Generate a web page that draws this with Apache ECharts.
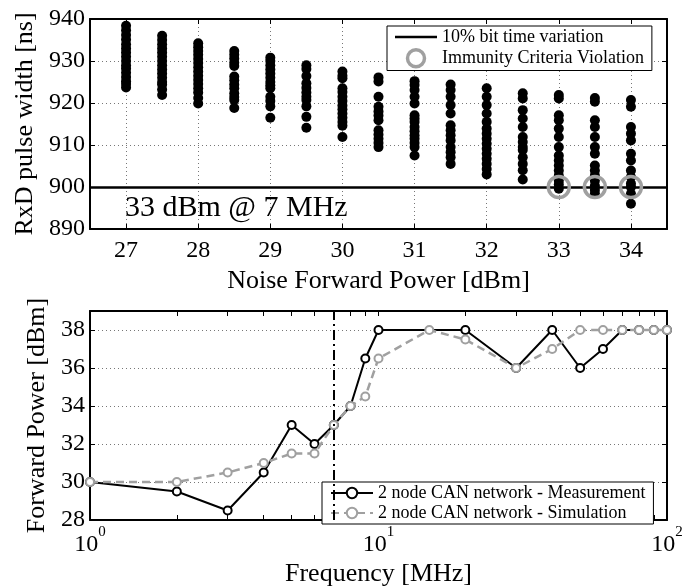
<!DOCTYPE html>
<html>
<head>
<meta charset="utf-8">
<script src="https://cdn.jsdelivr.net/npm/echarts@6/dist/echarts.min.js"></script>
<style>
  html, body { margin: 0; padding: 0; background: #fff; }
  #chart { width: 697px; height: 588px; }
</style>
</head>
<body>
<div id="chart"></div>
<script>
// top panel: RxD pulse width per noise power step
var noisePower = [27, 27.5, 28, 28.5, 29, 29.5, 30, 30.5, 31, 31.5, 32, 32.5, 33, 33.5, 34];
var pulseWidth = [
  [938.4, 937.3, 936.2, 935.1, 934, 933, 932, 931, 930, 929, 928.2, 927.2, 926.2, 925.2, 924.5, 923.7],
  [936, 935, 934, 933, 932, 931, 930, 929, 928, 927, 926, 925, 924.4, 923.2, 921.9],
  [934.2, 933.3, 932.4, 931.5, 930.5, 929.5, 928.5, 927.5, 926.5, 925.5, 924.5, 923.5, 922.5, 921.2, 919.9],
  [932.4, 931.5, 930.6, 929.6, 928.8, 926.3, 925.4, 924.4, 923.5, 922.3, 921.4, 920.7, 918.8],
  [930.8, 930, 929, 928, 927, 926, 925, 924.2, 923.5, 921.5, 920.5, 919.2, 916.5],
  [929, 928.1, 926.4, 924.7, 923.6, 922.5, 921.5, 920.7, 919.2, 916.7, 914.1],
  [927.5, 926.5, 925.9, 923.5, 922.6, 921.5, 920.5, 919.4, 918.5, 917.5, 916.5, 915.5, 914.6, 911.9],
  [926.1, 925.1, 921.5, 919.1, 918, 917, 915.9, 913.5, 912.5, 911.5, 910.5, 909.5],
  [925.2, 924.3, 923.1, 921.5, 919.9, 917.1, 916.3, 915.5, 914.3, 913.3, 912.3, 911.5, 910.5, 909.5, 907.5],
  [924.4, 923.1, 921.5, 919.5, 917.5, 914.7, 913.5, 912.3, 911.1, 909.5, 908.3, 907.1, 905.5],
  [923.5, 921.5, 919.5, 917.5, 915.5, 913.9, 912.7, 911.5, 910.3, 909.1, 907.9, 906.7, 905.5, 904.3, 903],
  [922.3, 921.1, 918.3, 916.3, 914.3, 911.9, 910.7, 909.5, 908.8, 907.1, 905.5, 904, 901.8],
  [921.9, 921.1, 917.1, 915.9, 913.9, 911.9, 909.5, 907.5, 906.3, 905.1, 903.9, 902.7, 901.5, 900.6, 899.6],
  [921.2, 920.3, 915.9, 914.3, 911.9, 909.5, 907.9, 905.1, 903.9, 902.7, 901.5, 900.3, 899.3, 898.4],
  [920.7, 919.1, 914.3, 912.7, 911.1, 907.9, 906.3, 903.9, 902.4, 900.8, 900, 898.4, 896]
];
var threshold = 900;
var violationPower = [33, 33.5, 34];
var violationWidth = [900, 900, 900];
var powerTicks = [27, 28, 29, 30, 31, 32, 33, 34];

// bottom panel: forward power vs frequency
var measFreq = [1, 2, 3, 4, 5, 6, 7, 8, 9, 10, 20, 30, 40, 50, 60, 70, 80, 90, 100];
var measPower = [30, 29.5, 28.5, 30.5, 33, 32, 33, 34, 36.5, 38, 38, 36, 38, 36, 37, 38, 38, 38, 38];
var simFreq = [1, 2, 3, 4, 5, 6, 7, 8, 9, 10, 15, 20, 30, 40, 50, 60, 70, 80, 90, 100];
var simPower = [30, 30, 30.5, 31, 31.5, 31.5, 33, 34, 34.5, 36.5, 38, 37.5, 36, 37, 38, 38, 38, 38, 38, 38];
var freqTicks = [1, 2, 3, 4, 5, 6, 7, 8, 9, 10, 20, 30, 40, 50, 60, 70, 80, 90, 100];
var freqLabels = [1, 10, 100];
var markFreq = 7;

var FONT = 'Liberation Serif';
var GRAY = '#a0a0a0';

var dots = [];
for (var i = 0; i < noisePower.length; i++) {
  for (var j = 0; j < pulseWidth[i].length; j++) {
    dots.push([noisePower[i], pulseWidth[i][j]]);
  }
}
var violations = violationPower.map(function (p, k) { return [p, violationWidth[k]]; });
var meas = measFreq.map(function (f, k) { return [f, measPower[k]]; });
var sim = simFreq.map(function (f, k) { return [f, simPower[k]]; });

var boxLine = { show: true, onZero: false, lineStyle: { color: '#000', width: 2 } };
var inTick = { show: true, inside: true, length: 5, lineStyle: { color: '#000', width: 1 } };
var dotGrid = { show: true, lineStyle: { color: '#777', width: 1, type: [1, 3] } };
var tickFont = { color: '#000', fontFamily: FONT, fontSize: 24 };
var nameFont = { color: '#000', fontFamily: FONT, fontSize: 26 };

var chart = echarts.init(document.getElementById('chart'));
var option = {
  animation: false,
  backgroundColor: '#fff',
  grid: [
    { left: 90, right: 30, top: 19, height: 210 },
    { left: 90, right: 30, top: 311, height: 211 }
  ],
  xAxis: [
    {
      gridIndex: 0, type: 'value', min: 26.5, max: 34.5, position: 'bottom',
      axisLine: boxLine,
      axisTick: Object.assign({ customValues: powerTicks }, inTick),
      axisLabel: Object.assign({ customValues: powerTicks, margin: 10 }, tickFont),
      splitLine: dotGrid,
      name: 'Noise Forward Power [dBm]', nameLocation: 'middle', nameGap: 39, nameTextStyle: nameFont
    },
    {
      gridIndex: 0, type: 'value', min: 26.5, max: 34.5, position: 'top',
      axisLine: boxLine,
      axisTick: Object.assign({ customValues: powerTicks }, inTick),
      axisLabel: { show: false }, splitLine: { show: false }
    },
    {
      gridIndex: 1, type: 'log', logBase: 10, min: 1, max: 100, position: 'bottom',
      axisLine: boxLine,
      axisTick: Object.assign({ customValues: freqTicks }, inTick),
      axisLabel: {
        customValues: freqLabels, margin: 5,
        formatter: function (v) {
          return '{b|10}{s|' + Math.round(Math.log10(v)) + '}';
        },
        rich: {
          b: { fontFamily: FONT, fontSize: 24, color: '#000', padding: [8, 0, 0, 0] },
          s: { fontFamily: FONT, fontSize: 15, color: '#000', verticalAlign: 'top' }
        }
      },
      splitLine: { show: false },
      name: 'Frequency [MHz]', nameLocation: 'middle', nameGap: 41, nameTextStyle: nameFont
    },
    {
      gridIndex: 1, type: 'log', logBase: 10, min: 1, max: 100, position: 'top',
      axisLine: boxLine,
      axisTick: Object.assign({ customValues: freqTicks }, inTick),
      axisLabel: { show: false }, splitLine: { show: false }
    }
  ],
  yAxis: [
    {
      gridIndex: 0, type: 'value', min: 890, max: 940, interval: 10, position: 'left',
      axisLine: boxLine, axisTick: inTick,
      axisLabel: Object.assign({ margin: 5 }, tickFont),
      splitLine: dotGrid,
      name: 'RxD pulse width [ns]', nameLocation: 'middle', nameGap: 48, nameTextStyle: nameFont
    },
    {
      gridIndex: 0, type: 'value', min: 890, max: 940, interval: 10, position: 'right',
      axisLine: boxLine, axisTick: inTick,
      axisLabel: { show: false }, splitLine: { show: false }
    },
    {
      gridIndex: 1, type: 'value', min: 28, max: 39, interval: 2, position: 'left',
      axisLine: boxLine, axisTick: inTick,
      axisLabel: Object.assign({ margin: 5, showMaxLabel: false }, tickFont),
      splitLine: dotGrid,
      name: 'Forward Power [dBm]', nameLocation: 'middle', nameGap: 37, nameTextStyle: nameFont
    },
    {
      gridIndex: 1, type: 'value', min: 28, max: 39, interval: 2, position: 'right',
      axisLine: boxLine, axisTick: inTick,
      axisLabel: { show: false }, splitLine: { show: false }
    }
  ],
  legend: [
    {
      left: 387, top: 26, orient: 'vertical', align: 'left',
      padding: [2, 8, 2, 8], itemWidth: 42, itemHeight: 17, itemGap: 2,
      backgroundColor: '#fff', borderColor: '#000', borderWidth: 1, borderRadius: 0,
      textStyle: { color: '#000', fontFamily: FONT, fontSize: 18, lineHeight: 17 },
      data: [
        { name: '10% bit time variation', icon: 'path://M0,0H42V2.5H0Z',
          itemStyle: { color: '#000' } },
        { name: 'Immunity Criteria Violation', icon: 'circle',
          itemStyle: { color: 'rgba(0,0,0,0)', borderColor: GRAY, borderWidth: 3.5 } }
      ]
    },
    {
      left: 322, top: 482, orient: 'vertical', align: 'left',
      padding: [2, 8, 2, 8], itemWidth: 42, itemHeight: 13, itemGap: 2,
      backgroundColor: '#fff', borderColor: '#000', borderWidth: 1, borderRadius: 0,
      textStyle: { color: '#000', fontFamily: FONT, fontSize: 18, lineHeight: 15 },
      data: ['2 node CAN network - Measurement', '2 node CAN network - Simulation']
    }
  ],
  graphic: [
    {
      type: 'text', left: 125, top: 193, z: 10,
      style: { text: '33 dBm @ 7 MHz', fill: '#000', font: '30px "Liberation Serif"' }
    }
  ],
  series: [
    {
      name: '10% bit time variation', type: 'line', xAxisIndex: 0, yAxisIndex: 0,
      data: [], symbol: 'none', showSymbol: false,
      lineStyle: { color: '#000', width: 2.5 },
      itemStyle: { color: '#000' },
      markLine: {
        silent: true, symbol: 'none', z: 1,
        label: { show: false },
        lineStyle: { color: '#000', width: 2.5, type: 'solid' },
        data: [{ yAxis: threshold }]
      }
    },
    {
      name: 'RxD pulse width', type: 'scatter', xAxisIndex: 0, yAxisIndex: 0,
      data: dots, symbol: 'circle', symbolSize: 10, z: 3,
      itemStyle: { color: '#000', opacity: 1 }
    },
    {
      name: 'Immunity Criteria Violation', type: 'scatter', xAxisIndex: 0, yAxisIndex: 0,
      data: violations, symbol: 'circle', symbolSize: 21, z: 4,
      itemStyle: { color: 'rgba(0,0,0,0)', borderColor: GRAY, borderWidth: 3.5, opacity: 1 }
    },
    {
      name: '2 node CAN network - Measurement', type: 'line', xAxisIndex: 2, yAxisIndex: 2,
      data: meas, symbol: 'emptyCircle', symbolSize: 8, z: 3,
      lineStyle: { color: '#000', width: 2 },
      itemStyle: { color: '#000', borderWidth: 2 },
      markLine: {
        silent: true, symbol: 'none',
        label: { show: false },
        lineStyle: { color: '#000', width: 2, type: [10, 4, 2, 4] },
        data: [{ xAxis: markFreq }]
      }
    },
    {
      name: '2 node CAN network - Simulation', type: 'line', xAxisIndex: 2, yAxisIndex: 2,
      data: sim, symbol: 'emptyCircle', symbolSize: 8, z: 4,
      lineStyle: { color: GRAY, width: 2.5, type: [8, 5] },
      itemStyle: { color: GRAY, borderWidth: 2 }
    }
  ]
};
chart.setOption(option);
</script>
</body>
</html>
